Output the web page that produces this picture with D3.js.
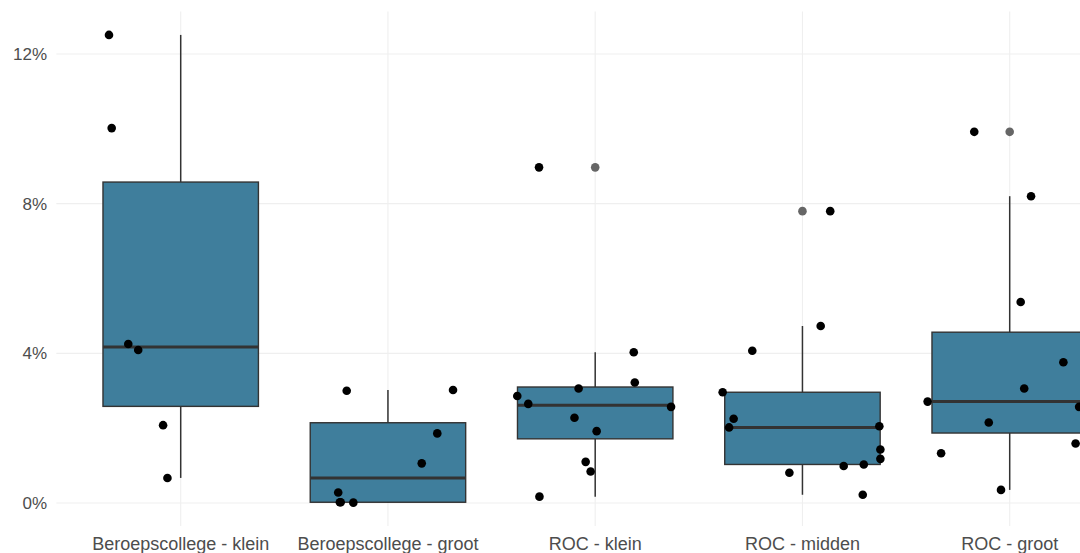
<!DOCTYPE html>
<html>
<head>
<meta charset="utf-8">
<script src="https://cdn.jsdelivr.net/npm/d3@7"></script>
<style>
  html, body { margin: 0; padding: 0; background: #ffffff; }
  svg { display: block; }
</style>
</head>
<body>
<svg id="chart" width="1080" height="553"></svg>
<script>
// ---- data (percent) ----
const categories = ["Beroepscollege - klein", "Beroepscollege - groot", "ROC - klein", "ROC - midden", "ROC - groot"];

const valuesBkKlein = [12.51, 10.02, 4.25, 4.09, 2.08, 0.67];
const valuesBkGroot = [3.00, 3.02, 1.86, 1.06, 0.28, 0.02, 0.01, 0.02];
const valuesRocKlein = [8.97, 4.03, 3.22, 3.06, 2.86, 2.65, 2.57, 2.28, 1.92, 1.10, 0.84, 0.17];
const valuesRocMidden = [7.80, 4.73, 4.07, 2.96, 2.25, 2.02, 2.05, 1.43, 1.18, 1.03, 0.99, 0.81, 0.22];
const valuesRocGroot = [9.92, 8.20, 5.37, 3.76, 3.06, 2.71, 2.15, 1.59, 1.33, 0.35, 2.57];

// horizontal jitter, as fraction of category step
const jitterBkKlein = [-0.346, -0.333, -0.253, -0.205, -0.085, -0.064];
const jitterBkGroot = [-0.199, 0.314, 0.238, 0.163, -0.240, -0.228, -0.167, -0.232];
const jitterRocKlein = [-0.271, 0.186, 0.191, -0.080, -0.376, -0.323, 0.366, -0.100, 0.007, -0.046, -0.022, -0.269];
const jitterRocMidden = [0.134, 0.088, -0.242, -0.385, -0.332, -0.354, 0.371, 0.376, 0.376, 0.296, 0.199, -0.063, 0.291];
const jitterRocGroot = [-0.171, 0.103, 0.053, 0.259, 0.070, -0.396, -0.101, 0.318, -0.331, -0.042, 0.335];

const yTicks = [0, 4, 8, 12];

const seriesValues = [valuesBkKlein, valuesBkGroot, valuesRocKlein, valuesRocMidden, valuesRocGroot];
const seriesJitter = [jitterBkKlein, jitterBkGroot, jitterRocKlein, jitterRocMidden, jitterRocGroot];

// ---- layout ----
const svg = d3.select("#chart");
const panelLeft = 56.35, panelRight = 1134.05;

const allVals = seriesValues.flat();
const ext = d3.extent(allVals);
const pad = (ext[1] - ext[0]) * 0.05;

const y = d3.scaleLinear().domain([0, 12]).range([503, 54]);
const panelTop = y(ext[1] + pad), panelBottom = y(ext[0] - pad);

const x = d3.scalePoint().domain(categories).range([panelLeft, panelRight]).padding(0.6);
const step = x.step();
const boxW = step * 0.75;

const fill = "#3f7e9c";
const dark = "#333333";

// gridlines
const grid = svg.append("g");
grid.selectAll("line.major").data(yTicks).join("line")
  .attr("x1", panelLeft).attr("x2", panelRight)
  .attr("y1", d => y(d)).attr("y2", d => y(d))
  .attr("stroke", "#efefef").attr("stroke-width", 1.1);
grid.selectAll("line.vx").data(categories).join("line")
  .attr("x1", d => x(d)).attr("x2", d => x(d))
  .attr("y1", panelTop).attr("y2", panelBottom)
  .attr("stroke", "#efefef").attr("stroke-width", 1.1);

// box stats
function stats(vals) {
  const s = vals.slice().sort(d3.ascending);
  const q1 = d3.quantile(s, 0.25), med = d3.quantile(s, 0.5), q3 = d3.quantile(s, 0.75);
  const iqr = q3 - q1;
  const lo = q1 - 1.5 * iqr, hi = q3 + 1.5 * iqr;
  const inside = s.filter(v => v >= lo && v <= hi);
  return { q1, med, q3, wLo: d3.min(inside), wHi: d3.max(inside), out: s.filter(v => v < lo || v > hi) };
}

const boxes = svg.append("g");
categories.forEach((c, i) => {
  const st = stats(seriesValues[i]);
  const cx = x(c);
  const g = boxes.append("g");
  g.append("line").attr("x1", cx).attr("x2", cx).attr("y1", y(st.q3)).attr("y2", y(st.wHi))
    .attr("stroke", dark).attr("stroke-width", 1.5);
  g.append("line").attr("x1", cx).attr("x2", cx).attr("y1", y(st.q1)).attr("y2", y(st.wLo))
    .attr("stroke", dark).attr("stroke-width", 1.5);
  g.append("rect").attr("x", cx - boxW / 2).attr("width", boxW)
    .attr("y", y(st.q3)).attr("height", y(st.q1) - y(st.q3))
    .attr("fill", fill).attr("stroke", dark).attr("stroke-width", 1.4);
  g.append("line").attr("x1", cx - boxW / 2).attr("x2", cx + boxW / 2)
    .attr("y1", y(st.med)).attr("y2", y(st.med))
    .attr("stroke", dark).attr("stroke-width", 3);
  g.selectAll("circle").data(st.out).join("circle")
    .attr("cx", cx).attr("cy", d => y(d)).attr("r", 4.3).attr("fill", "#666666");
});

// jittered points
const pts = svg.append("g");
categories.forEach((c, i) => {
  const vals = seriesValues[i], jit = seriesJitter[i];
  pts.selectAll(null).data(vals.map((v, k) => ({ v, j: jit[k] }))).join("circle")
    .attr("cx", d => x(c) + d.j * step)
    .attr("cy", d => y(d.v))
    .attr("r", 4.3)
    .attr("fill", "#000000");
});

// axes text
const font = "'Liberation Sans', Arial, sans-serif";
svg.append("g").selectAll("text").data(yTicks).join("text")
  .attr("x", 47).attr("y", d => y(d)).attr("dy", "0.35em")
  .attr("text-anchor", "end")
  .attr("font-family", font).attr("font-size", 17).attr("fill", "#4d4d4d")
  .text(d => d + "%");

svg.append("g").selectAll("text").data(categories).join("text")
  .attr("x", d => x(d)).attr("y", 550)
  .attr("text-anchor", "middle")
  .attr("font-family", font).attr("font-size", 18).attr("fill", "#4d4d4d")
  .text(d => d);
</script>
</body>
</html>
